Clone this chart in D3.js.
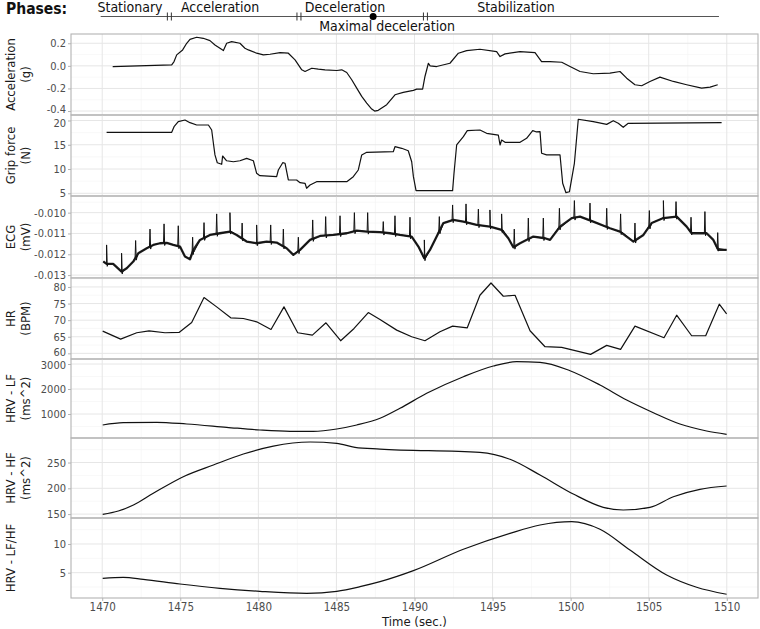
<!DOCTYPE html>
<html><head><meta charset="utf-8">
<script src="https://cdn.jsdelivr.net/npm/d3@7"></script>
<style>
html,body{margin:0;padding:0;background:#fff;}
svg text{font-family:'DejaVu Sans Condensed','DejaVu Sans',sans-serif;font-stretch:condensed;}
</style></head>
<body><svg id="chart" width="760" height="629"></svg>
<script>
// ---------- data ----------
const xTicks = [1470, 1475, 1480, 1485, 1490, 1495, 1500, 1505, 1510];
const xTickLabels = ["1470","1475","1480","1485","1490","1495","1500","1505","1510"];

const phaseNames = ["Stationary", "Acceleration", "Deceleration", "Stabilization"];
const phaseLabelT = [1471.78, 1477.55, 1485.55, 1496.5];
const phaseStart = 1469.9, phaseEnd = 1509.5;
const phaseBoundaries = [1474.3, 1482.6, 1490.7];
const maxDecelT = 1487.35;
const maxDecelLabel = "Maximal deceleration";
const maxDecelLabelT = 1488.24;

const accData = [[1470.67,-0.006],[1474.45,0.009],[1474.6,0.038],[1474.77,0.097],[1475.15,0.141],[1475.41,0.2],[1475.62,0.235],[1476.05,0.253],[1476.47,0.244],[1476.9,0.223],[1477.22,0.185],[1477.54,0.156],[1477.76,0.135],[1477.97,0.2],[1478.29,0.214],[1478.82,0.2],[1479.14,0.156],[1479.36,0.141],[1479.89,0.112],[1480.32,0.097],[1480.75,0.103],[1481.39,0.117],[1481.92,0.112],[1482.35,0.053],[1482.78,-0.035],[1482.99,-0.05],[1483.42,-0.021],[1483.84,-0.029],[1484.27,-0.035],[1485.02,-0.041],[1485.34,-0.035],[1485.66,-0.059],[1485.98,-0.123],[1486.3,-0.197],[1486.62,-0.27],[1486.94,-0.329],[1487.26,-0.382],[1487.45,-0.400],[1487.68,-0.394],[1488.22,-0.344],[1488.75,-0.256],[1489.28,-0.235],[1489.93,-0.217],[1490.14,-0.206],[1490.52,-0.206],[1490.67,-0.094],[1490.89,0.023],[1491.0,0.0],[1491.42,-0.006],[1492.27,0.023],[1492.81,0.112],[1493.34,0.135],[1494.19,0.147],[1495.26,0.126],[1495.48,0.082],[1495.8,0.106],[1496.76,0.126],[1497.72,0.117],[1498.14,0.038],[1498.68,0.038],[1499.43,0.032],[1499.96,-0.006],[1500.6,-0.05],[1501.45,-0.07],[1502.52,-0.065],[1503.16,-0.05],[1503.59,-0.109],[1504.12,-0.167],[1504.55,-0.176],[1505.08,-0.138],[1505.72,-0.1],[1506.58,-0.138],[1507.43,-0.167],[1508.39,-0.197],[1508.93,-0.188],[1509.42,-0.167]];

const gripData = [[1470.28,17.57],[1474.45,17.57],[1474.6,18.72],[1474.87,19.75],[1475.3,20.1],[1475.62,19.55],[1476.05,19.07],[1476.8,19.07],[1477.01,18.04],[1477.12,15.3],[1477.22,12.9],[1477.37,11.3],[1477.65,10.97],[1477.71,12.68],[1477.97,11.7],[1478.4,11.5],[1478.82,11.7],[1479.25,12.2],[1479.68,11.7],[1479.89,9.12],[1480.1,8.63],[1481.17,8.42],[1481.28,9.8],[1481.56,11.3],[1481.71,11.18],[1481.92,7.74],[1482.45,7.74],[1482.67,7.18],[1482.99,7.06],[1483.09,6.03],[1483.31,6.71],[1483.73,7.39],[1485.66,7.39],[1486.08,8.42],[1486.4,9.8],[1486.62,12.9],[1486.94,13.44],[1488.64,13.57],[1488.75,14.6],[1489.18,14.27],[1489.6,13.77],[1489.82,11.5],[1489.93,8.42],[1490.1,5.54],[1492.44,5.54],[1492.53,9.12],[1492.7,14.95],[1493.13,16.66],[1493.38,17.9],[1494.19,18.04],[1494.62,17.36],[1495.37,17.0],[1495.48,14.95],[1495.58,15.98],[1495.8,15.5],[1496.76,15.5],[1497.18,16.33],[1497.57,17.9],[1497.78,17.67],[1498.04,17.7],[1498.14,13.24],[1498.46,12.9],[1499.32,12.9],[1499.49,7.06],[1499.7,5.12],[1499.92,5.31],[1500.24,11.18],[1500.49,20.25],[1501.45,19.75],[1502.31,19.2],[1502.73,19.96],[1503.05,19.42],[1503.37,18.6],[1503.69,19.42],[1509.67,19.55]];

const ecgBase = [[1470.07,-0.01235],[1470.28,-0.01246],[1470.7,-0.01246],[1471.24,-0.01283],[1471.57,-0.01267],[1471.99,-0.01235],[1472.31,-0.01195],[1472.85,-0.01171],[1473.27,-0.01155],[1473.7,-0.01147],[1474.13,-0.01145],[1474.55,-0.01155],[1474.98,-0.01163],[1475.3,-0.01211],[1475.62,-0.01224],[1475.84,-0.01179],[1476.26,-0.01131],[1476.9,-0.01107],[1477.54,-0.01099],[1478.18,-0.01091],[1478.61,-0.01107],[1479.25,-0.01139],[1479.89,-0.01147],[1480.53,-0.01139],[1481.17,-0.01144],[1481.81,-0.01171],[1482.24,-0.01203],[1482.67,-0.01179],[1483.31,-0.01131],[1483.95,-0.01112],[1484.8,-0.01107],[1485.66,-0.01099],[1486.3,-0.01086],[1486.94,-0.01091],[1487.79,-0.01094],[1488.43,-0.01099],[1489.07,-0.01107],[1489.82,-0.01115],[1490.25,-0.01163],[1490.63,-0.01219],[1490.99,-0.01179],[1491.42,-0.01115],[1491.85,-0.0105],[1492.49,-0.01035],[1493.13,-0.01043],[1493.98,-0.01059],[1494.83,-0.01067],[1495.58,-0.01083],[1496.01,-0.01123],[1496.33,-0.01166],[1496.76,-0.01147],[1497.61,-0.01115],[1498.36,-0.01123],[1498.68,-0.01131],[1499.32,-0.01067],[1500.07,-0.01026],[1500.6,-0.01019],[1501.45,-0.01043],[1502.52,-0.01075],[1503.16,-0.01091],[1504.02,-0.01139],[1504.66,-0.01107],[1505.19,-0.0105],[1505.94,-0.01026],[1506.79,-0.01019],[1507.43,-0.01067],[1507.75,-0.01099],[1508.71,-0.01099],[1509.14,-0.01131],[1509.46,-0.01179],[1509.99,-0.01179]];

const ecgPeaks = [[1470.28,-0.01155],[1471.24,-0.01195],[1472.14,-0.01134],[1473.06,-0.01079],[1473.96,-0.01054],[1474.87,-0.01063],[1475.79,-0.01118],[1476.52,-0.01048],[1477.33,-0.01006],[1478.18,-0.0100],[1478.96,-0.0105],[1479.89,-0.01059],[1480.79,-0.01059],[1481.6,-0.01079],[1482.56,-0.01118],[1483.48,-0.01035],[1484.31,-0.01019],[1485.23,-0.01015],[1486.15,-0.0100],[1487.0,-0.0100],[1488.0,-0.01043],[1488.75,-0.01015],[1489.71,-0.01022],[1490.63,-0.01131],[1491.59,-0.01019],[1492.44,-0.00963],[1493.3,-0.00958],[1494.09,-0.00983],[1494.83,-0.00987],[1495.58,-0.01006],[1496.39,-0.01079],[1497.29,-0.01026],[1498.25,-0.01026],[1499.28,-0.00979],[1500.24,-0.00942],[1501.24,-0.00954],[1502.31,-0.00979],[1503.2,-0.01006],[1504.12,-0.0105],[1505.04,-0.0099],[1505.94,-0.00942],[1506.75,-0.00947],[1507.71,-0.01022],[1508.6,-0.00995],[1509.42,-0.01096]];

const hrData = [[1470.03,66.7],[1471.18,64.3],[1472.21,66.2],[1473.0,66.8],[1474.02,66.2],[1474.92,66.3],[1475.73,69.3],[1476.52,76.8],[1477.33,74.0],[1478.23,70.7],[1479.04,70.5],[1479.89,69.5],[1480.81,67.2],[1481.64,74.0],[1482.52,66.2],[1483.46,65.5],[1484.33,69.2],[1485.27,63.8],[1486.13,67.5],[1487.04,72.3],[1487.79,70.2],[1488.86,67.0],[1489.82,65.0],[1490.67,63.8],[1491.63,66.5],[1492.44,68.2],[1493.38,67.7],[1494.19,77.5],[1494.9,81.2],[1495.69,77.2],[1496.44,77.5],[1497.4,66.8],[1498.36,62.0],[1499.43,61.8],[1501.28,59.7],[1502.31,62.4],[1503.2,61.2],[1504.12,68.2],[1505.98,64.7],[1506.79,71.5],[1507.75,65.3],[1508.65,65.3],[1509.52,74.8],[1509.99,71.9]];

const lfData = [[1470.03,560],[1471.35,652],[1473.49,668],[1475.41,600],[1477.97,468],[1480.1,360],[1482.03,308],[1483.52,308],[1485.02,400],[1486.3,560],[1487.79,828],[1489.07,1228],[1490.78,1828],[1493.13,2492],[1495.05,2920],[1496.54,3092],[1498.04,3068],[1499.96,2732],[1501.88,2160],[1503.59,1560],[1505.3,1052],[1507.0,600],[1508.71,320],[1509.99,188]];

const hfData = [[1470.03,149.6],[1471.03,156],[1472.0,167.6],[1473.27,190.3],[1475.19,222.5],[1477.12,245.2],[1479.04,266.5],[1480.96,282],[1483.31,289.8],[1485.02,287.3],[1486.19,279.5],[1487.79,276.2],[1494.19,269.8],[1496.12,256.3],[1498.04,225.8],[1500.17,188.9],[1502.09,163.1],[1503.37,157.9],[1505.08,163.1],[1506.58,183.7],[1508.28,198],[1509.99,204.5]];

const lfhfData = [[1470.03,4.02],[1471.35,4.2],[1472.63,3.85],[1474.98,3.03],[1477.54,2.28],[1480.1,1.76],[1483.09,1.41],[1485.02,1.76],[1486.51,2.56],[1487.79,3.43],[1489.93,5.35],[1493.13,9.08],[1496.12,11.86],[1498.04,13.31],[1500.07,13.89],[1501.88,12.56],[1503.8,8.95],[1506.15,4.6],[1508.07,2.46],[1509.99,1.24]];

const accTicks = [-0.4, -0.2, 0.0, 0.2], accTickLabels = ["-0.4","-0.2","0.0","0.2"];
const gripTicks = [5, 10, 15, 20], gripTickLabels = ["5","10","15","20"];
const ecgTicks = [-0.013, -0.012, -0.011, -0.010], ecgTickLabels = ["-0.013","-0.012","-0.011","-0.010"];
const hrTicks = [60, 65, 70, 75, 80], hrTickLabels = ["60","65","70","75","80"];
const lfTicks = [1000, 2000, 3000], lfTickLabels = ["1000","2000","3000"];
const hfTicks = [150, 200, 250], hfTickLabels = ["150","200","250"];
const lfhfTicks = [5, 10], lfhfTickLabels = ["5","10"];

const titles = [["Acceleration","(g)"],["Grip force","(N)"],["ECG","(mV)"],["HR","(BPM)"],["HRV - LF","(ms^2)"],["HRV - HF","(ms^2)"],["HRV - LF/HF"]];
const xTitle = "Time (sec.)";

// ---------- layout ----------
const W = 760, H = 629;
const L = 71, R = 758;
const edges = [34, 115, 196, 278, 359, 438, 518, 598];
const BOT = edges[edges.length - 1];
// small vertical nudges (px) for tick labels that sit on a shared panel edge
const labelNudge = {"0-0": -1.8, "1-3": 2.2, "3-0": -1.4, "4-2": 1.4};
const svg = d3.select("#chart");
svg.append("rect").attr("width", W).attr("height", H).attr("fill", "#fff");

const x = d3.scaleLinear().domain([1468, 1512]).range([L, R]);

const panels = [
  {data: accData, dom: [-0.435, 0.282], ticks: accTicks, labels: accTickLabels, curve: d3.curveLinear},
  {data: gripData, dom: [4.44, 21.13], ticks: gripTicks, labels: gripTickLabels, curve: d3.curveLinear},
  {data: ecgBase, dom: [-0.01314, -0.0092], ticks: ecgTicks, labels: ecgTickLabels, curve: d3.curveLinear, ecg: true},
  {data: hrData, dom: [58.3, 82.7], ticks: hrTicks, labels: hrTickLabels, curve: d3.curveLinear},
  {data: lfData, dom: [40, 3200], ticks: lfTicks, labels: lfTickLabels, curve: d3.curveMonotoneX},
  {data: hfData, dom: [142.4, 297.6], ticks: hfTicks, labels: hfTickLabels, curve: d3.curveMonotoneX},
  {data: lfhfData, dom: [0.59, 14.53], ticks: lfhfTicks, labels: lfhfTickLabels, curve: d3.curveMonotoneX}
];

const gridMajor = "#e6e6e6", gridMinor = "#f3f3f3", border = "#b3b3b3", tickCol = "#b3b3b3", textCol = "#4d4d4d";
const xMinor = xTicks.slice(0, -1).map((t, i) => (t + xTicks[i + 1]) / 2);
const tickFont = "11px";

panels.forEach((p, i) => {
  const y0 = edges[i], y1 = edges[i + 1], ph = y1 - y0;
  const y = d3.scaleLinear().domain(p.dom).range([y1, y0]);
  const g = svg.append("g");
  const clipId = "clip" + i;
  svg.append("clipPath").attr("id", clipId).append("rect").attr("x", L).attr("y", y0).attr("width", R - L).attr("height", ph);
  // minor grid
  const yMinor = p.ticks.slice(0, -1).map((t, k) => (t + p.ticks[k + 1]) / 2);
  const step = p.ticks[1] - p.ticks[0];
  yMinor.push(p.ticks[p.ticks.length - 1] + step / 2, p.ticks[0] - step / 2);
  g.selectAll(".ymin").data(yMinor.filter(v => v > p.dom[0] && v < p.dom[1])).join("line")
    .attr("x1", L).attr("x2", R).attr("y1", d => y(d)).attr("y2", d => y(d)).attr("stroke", gridMinor).attr("stroke-width", 0.6);
  g.selectAll(".xmin").data(xMinor).join("line")
    .attr("y1", y0).attr("y2", y1).attr("x1", d => x(d)).attr("x2", d => x(d)).attr("stroke", gridMinor).attr("stroke-width", 0.6);
  // major grid
  g.selectAll(".ymaj").data(p.ticks).join("line")
    .attr("x1", L).attr("x2", R).attr("y1", d => y(d)).attr("y2", d => y(d)).attr("stroke", gridMajor).attr("stroke-width", 1);
  g.selectAll(".xmaj").data(xTicks).join("line")
    .attr("y1", y0).attr("y2", y1).attr("x1", d => x(d)).attr("x2", d => x(d)).attr("stroke", gridMajor).attr("stroke-width", 1);

  // y axis
  const ax = d3.axisLeft(y).tickValues(p.ticks).tickFormat((d, k) => p.labels[k]).tickSize(3).tickPadding(2);
  const axg = svg.append("g").attr("transform", `translate(${L},0)`).call(ax);
  axg.select(".domain").remove();
  axg.selectAll(".tick line").attr("stroke", tickCol);
  axg.selectAll(".tick text").attr("fill", textCol).style("font-size", tickFont)
     .style("font-family", "'DejaVu Sans Condensed','DejaVu Sans',sans-serif")
     .attr("transform", (d, k) => `translate(0,${labelNudge[i + "-" + k] || 0})`);

  // line(s)
  const line = d3.line().x(d => x(d[0])).y(d => y(d[1])).curve(p.curve);
  const lg = svg.append("g").attr("clip-path", `url(#${clipId})`);
  if (p.ecg) {
    const interp = t => {
      const b = p.data;
      for (let k = 0; k < b.length - 1; k++) {
        if (t >= b[k][0] && t <= b[k + 1][0]) {
          const f = (t - b[k][0]) / (b[k + 1][0] - b[k][0]);
          return b[k][1] + f * (b[k + 1][1] - b[k][1]);
        }
      }
      return t < b[0][0] ? b[0][1] : b[b.length - 1][1];
    };
    const pts = p.data.map(d => [d[0], d[1]]);
    ecgPeaks.forEach(pk => {
      const b = interp(pk[0]);
      pts.push([pk[0] - 0.035, b], [pk[0], pk[1]], [pk[0] + 0.04, b - 0.00012], [pk[0] + 0.08, b]);
    });
    pts.sort((a, b) => a[0] - b[0]);
    lg.append("path").datum(p.data).attr("d", line).attr("fill", "none").attr("stroke", "#222").attr("stroke-width", 2.3).attr("stroke-linejoin", "round");
    lg.append("path").datum(pts).attr("d", line).attr("fill", "none").attr("stroke", "#111").attr("stroke-width", 1).attr("stroke-linejoin", "round");
  } else {
    lg.append("path").datum(p.data).attr("d", line).attr("fill", "none").attr("stroke", "#111").attr("stroke-width", 1.2).attr("stroke-linejoin", "round");
  }

  // border
  svg.append("rect").attr("x", L).attr("y", y0).attr("width", R - L).attr("height", ph)
    .attr("fill", "none").attr("stroke", border).attr("stroke-width", 1.1);

  // title
  const tg = svg.append("g").attr("transform", `translate(0,${(y0 + y1) / 2})`);
  titles[i].forEach((s, k) => {
    tg.append("text").attr("transform", `translate(${10 + k * 15},0) rotate(-90)`)
      .attr("text-anchor", "middle").attr("dy", "0.36em").attr("fill", "#1a1a1a")
      .style("font-size", "13px").text(s);
  });
});

// x axis
const xa = d3.axisBottom(x).tickValues(xTicks).tickFormat((d, k) => xTickLabels[k]).tickSize(3).tickPadding(2);
const xg = svg.append("g").attr("transform", `translate(0,${BOT})`).call(xa);
xg.select(".domain").remove();
xg.selectAll(".tick line").attr("stroke", tickCol);
xg.selectAll(".tick text").attr("fill", textCol).style("font-size", "11.5px")
  .style("font-family", "'DejaVu Sans Condensed','DejaVu Sans',sans-serif");
svg.append("text").attr("x", (L + R) / 2).attr("y", 625.5).attr("text-anchor", "middle")
  .attr("fill", "#1a1a1a").style("font-size", "13px").text(xTitle);

// phases header
const hy = 16.5;
const hg = svg.append("g");
hg.append("text").attr("x", 6).attr("y", 14).style("font-size", "15.5px").style("font-weight", "bold").attr("fill", "#111").text("Phases:");
hg.append("line").attr("x1", x(phaseStart)).attr("x2", x(phaseEnd)).attr("y1", hy).attr("y2", hy).attr("stroke", "#555").attr("stroke-width", 1.1);
phaseBoundaries.forEach(b => {
  [-2, 2].forEach(o => {
    hg.append("line").attr("x1", x(b) + o).attr("x2", x(b) + o).attr("y1", hy - 4).attr("y2", hy + 4).attr("stroke", "#333").attr("stroke-width", 1);
  });
});
phaseNames.forEach((n, k) => {
  hg.append("text").attr("x", x(phaseLabelT[k])).attr("y", 12).attr("text-anchor", "middle")
    .style("font-size", "14px").attr("fill", "#111").text(n);
});
hg.append("circle").attr("cx", x(maxDecelT)).attr("cy", hy).attr("r", 3.5).attr("fill", "#000");
hg.append("text").attr("x", x(maxDecelLabelT)).attr("y", 31).attr("text-anchor", "middle")
  .style("font-size", "14px").attr("fill", "#111").text(maxDecelLabel);
</script></body></html>
